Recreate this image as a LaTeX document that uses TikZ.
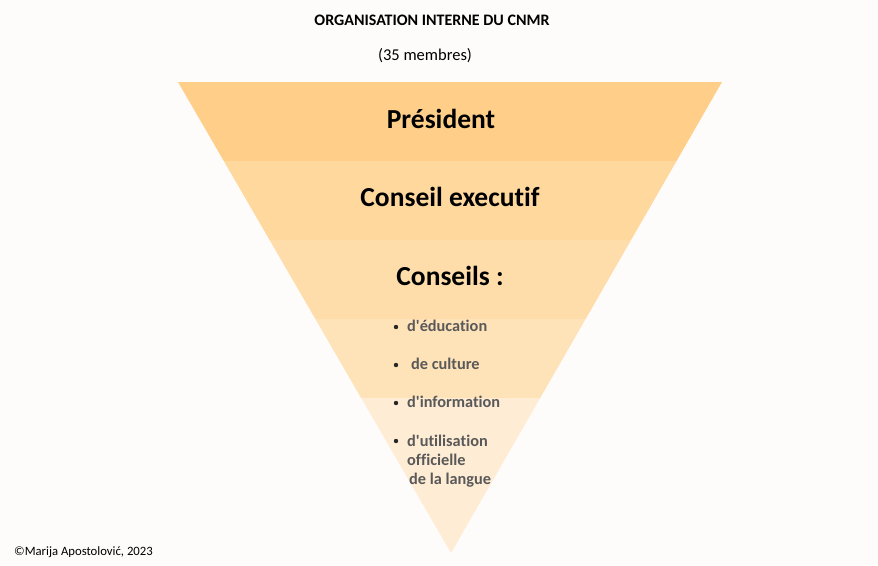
\documentclass[tikz,border=0pt]{standalone}
\usepackage{fontspec}
\setmainfont{Carlito}[Ligatures={TeXOff,CommonOff}]
\definecolor{paper}{RGB}{254,252,250}
\definecolor{bandA}{RGB}{255,207,138}
\definecolor{bandB}{RGB}{255,216,158}
\definecolor{bandC}{RGB}{254,221,170}
\definecolor{bandD}{RGB}{255,227,184}
\definecolor{bandE}{RGB}{255,236,212}
\definecolor{itemgray}{RGB}{89,89,89}
\tikzset{
  level/.style={font=\fontsize{27.5}{32}\selectfont\bfseries},
  item/.style={anchor=west, inner sep=0pt, text=itemgray, font=\fontsize{16.3}{19}\selectfont\bfseries, align=left},
  dot/.style={circle, fill=black!85, inner sep=0pt, minimum size=4.4pt}
}
\begin{document}
\begin{tikzpicture}[x=1pt,y=-1pt]
            \useasboundingbox (0,0) rectangle (878,565);
            \fill[paper] (0,0) rectangle (878,565);

            \begin{scope}
              \clip (178,82) -- (722,82) -- (451,553) -- cycle;
              \fill[bandA] (150,82) rectangle (750,161);
              \fill[bandB] (150,161) rectangle (750,240);
              \fill[bandC] (150,240) rectangle (750,319);
              \fill[bandD] (150,319) rectangle (750,398);
              \fill[bandE] (150,398) rectangle (750,560);
            \end{scope}

            \node[font=\fontsize{16}{19}\selectfont\bfseries] (title) at (432,20) {ORGANISATION INTERNE DU CNMR};
            \node[font=\fontsize{16.5}{19}\selectfont] (members) at (425,56) {(35 membres)};

            \node[level] (president) at (441,119) {Président}; % top band
            \node[level] (executif) at (450,197) {Conseil executif};
            \node[level] (conseils) at (450,276) {Conseils :};

            \node[dot] (dotA) at (396,327) {};
            \node[dot] (dotB) at (396,365) {};
            \node[dot] (dotC) at (396,403) {};
            \node[dot] (dotD) at (396,441) {};
            \node[item] (education) at (407,326) {d'éducation};
            \node[item] (culture) at (411,364) {de culture};
            \node[item] (information) at (407,402) {d'information};
            \node[item, anchor=north west] (langue) at (407,435) {d'utilisation\\officielle\\\hspace{2pt}de la langue};

            \node[anchor=west, inner sep=0pt, font=\fontsize{12.7}{15}\selectfont] (credit) at (14,552) {©Marija Apostolović, 2023}; % bottom left
\end{tikzpicture}
\end{document}
